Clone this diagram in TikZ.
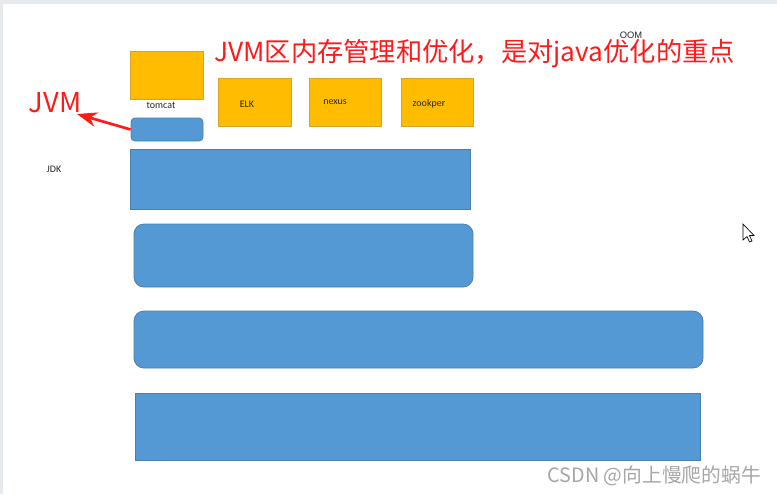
\documentclass[tikz,border=0pt]{standalone}
\usepackage{fontspec}
\setmainfont{Carlito}
\newfontfamily\cjk{Noto Sans CJK SC}
\newfontfamily\arialish{Liberation Sans}
\usetikzlibrary{arrows.meta,fit}
\definecolor{boxblue}{HTML}{5599D4}
\definecolor{boxblueedge}{HTML}{4A7EB0}
\definecolor{boxorange}{HTML}{FFBC00}
\definecolor{boxorangeedge}{HTML}{D4A52A}
\definecolor{titlered}{HTML}{FF1A1A}
\definecolor{framegray}{HTML}{E6EAED}
\definecolor{wmgray}{HTML}{A6A6A6}
\tikzset{
  bluebox/.style={fill=boxblue,draw=boxblueedge,line width=0.6pt,inner sep=0pt},
  roundblue/.style={bluebox,rounded corners=7.5pt},
  orangebox/.style={fill=boxorange,draw=boxorangeedge,line width=0.6pt,inner sep=0pt},
  smalllabel/.style={font=\fontsize{7.5}{9}\selectfont,inner sep=0pt,text=black!85},
  redtext/.style={font=\cjk\fontsize{19.7}{23}\selectfont,text=titlered,inner sep=0pt},
  redarrow/.style={draw=titlered,line width=2pt,-{Stealth[length=15pt,width=11pt]}},
}
\begin{document}
\begin{tikzpicture}[x=0.75pt,y=-0.75pt]
\useasboundingbox (0,0) rectangle (777,494);
\fill[white] (0,0) rectangle (777,494);
\fill[framegray] (0,0) rectangle (777,4);
\fill[framegray] (0,0) rectangle (3,494);

% top orange boxes
\node[orangebox,fit={(130,51)(203,99)}] (tomcat) {};
\node[orangebox,fit={(218,78)(291,126)}] (elk) {};
\node[orangebox,fit={(309,78)(381,126)}] (nexus) {};
\node[orangebox,fit={(401,78)(473,126)}] (zook) {};
\node[smalllabel] (tomcatlbl) at (161,105) {tomcat};
\node[smalllabel] (elklbl) at (247,104) {ELK};
\node[smalllabel] (nexuslbl) at (335,102) {nexus};
\node[smalllabel] (zooklbl) at (429,104) {zookper};

% JVM small box
\node[bluebox,rounded corners=3pt,fit={(131,118)(203,141)}] (jvmbox) {};

% big blue bars
\node[bluebox,fit={(130,149)(470,209)}] (bar1) {};
\node[roundblue,fit={(134,224)(473,287)}] (bar2) {};
\node[roundblue,fit={(134,311)(703,368)}] (bar3) {};
\node[bluebox,fit={(135,393)(700,460)}] (bar4) {};

% texts
\node[smalllabel] (jdk) at (54,169) {JDK};
\node[smalllabel,font=\arialish\fontsize{7}{8}\selectfont] (oom) at (631,35) {OOM};
\node[redtext,anchor=west] (title) at (214,54) {JVM区内存管理和优化，是对java优化的重点};
\node[redtext,font=\cjk\fontsize{20.5}{24}\selectfont] (jvmlbl) at (55,103) {JVM};
\coordinate (jvmtip) at (77,114);
\draw[redarrow] (jvmbox.west) -- (jvmtip);

% mouse cursor
\draw[black,fill=white,line width=0.5pt,line join=miter]
  (743,224) -- (743,240) -- (747,236.5) -- (749.5,242) -- (752,241) -- (749.5,235.5) -- (754,235.5) -- cycle;

% watermark
\node[font=\cjk\fontsize{14.8}{16}\selectfont,text=wmgray,anchor=east,inner sep=0pt] (wm) at (761,476) {CSDN @向上慢爬的蜗牛};
\end{tikzpicture}
\end{document}
